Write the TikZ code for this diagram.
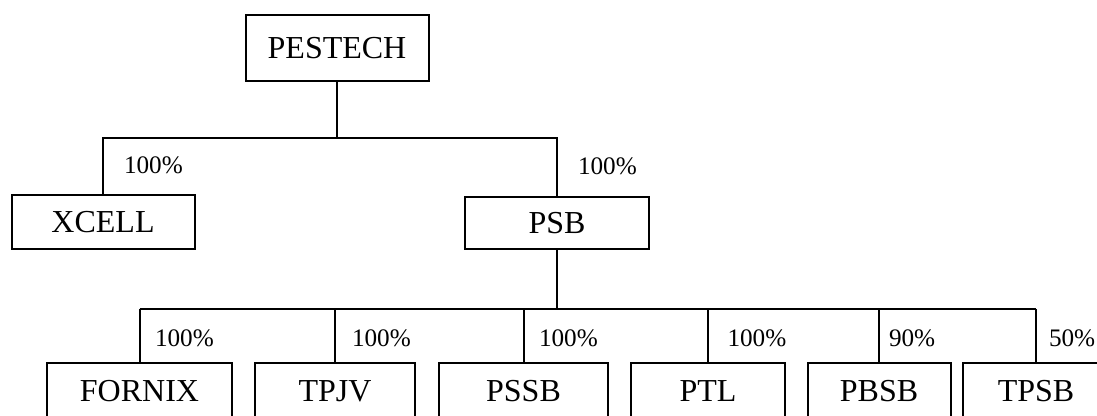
\documentclass[tikz,border=0pt]{standalone}
\usepackage{fontspec}
\setmainfont{Liberation Serif}
\begin{document}
\begin{tikzpicture}[x=0.5pt,y=-0.5pt,line width=1pt,
    firm/.style={draw, inner sep=0pt, font=\fontsize{16}{19}\selectfont},
    share/.style={anchor=west, inner sep=0pt, font=\fontsize{12.6}{15}\selectfont}]
\useasboundingbox (0,0) rectangle (1097,416);

\node[firm, minimum width=91.5pt, minimum height=33pt] (pestech) at (337,48) {PESTECH};
\node[firm, minimum width=91.5pt, minimum height=27pt] (xcell) at (103,222) {XCELL};
\node[firm, minimum width=92pt, minimum height=26pt] (psb) at (557,223) {PSB};

\node[firm, minimum width=92.5pt, minimum height=28pt] (fornix) at (139.5,391) {FORNIX};
\node[firm, minimum width=80pt, minimum height=28pt] (tpjv) at (335,391) {TPJV};
\node[firm, minimum width=84.5pt, minimum height=28pt] (pssb) at (523.5,391) {PSSB};
\node[firm, minimum width=77pt, minimum height=28pt] (ptl) at (708,391) {PTL};
\node[firm, minimum width=71.5pt, minimum height=28pt] (pbsb) at (879,391) {PBSB};
\node[firm, minimum width=73pt, minimum height=28pt] (tpsb) at (1036,391) {TPSB};

\coordinate (bustop) at (0,138);
\coordinate (busbot) at (0,309);

\draw (pestech.south) -- (pestech.south |- bustop) -| (xcell.north);
\draw (pestech.south |- bustop) -| (psb.north);
\draw (psb.south) -- (psb.south |- busbot);
\draw (fornix.north |- busbot) -- (tpsb.north |- busbot);
\foreach \firm in {fornix,tpjv,pssb,ptl,pbsb,tpsb}
  \draw (\firm.north) -- (\firm.north |- busbot);

\node[share] (sxcell) at (123,165) {100\%};
\node[share] (spsb) at (577,166) {100\%};
\node[share] (sfornix) at (154,338) {100\%};
\node[share] (stpjv) at (351,338) {100\%};
\node[share] (spssb) at (538,338) {100\%};
\node[share] (sptl) at (726.5,338) {100\%};
\node[share] (spbsb) at (888,338) {90\%};
\node[share] (stpsb) at (1048,338) {50\%};

\end{tikzpicture}
\end{document}
